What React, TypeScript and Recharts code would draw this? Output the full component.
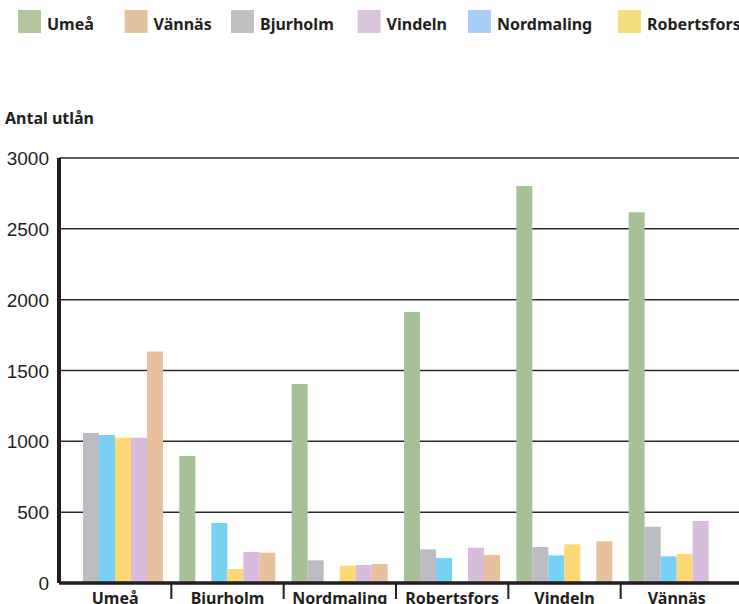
import React from 'react';
import { BarChart, Bar, XAxis, YAxis, CartesianGrid } from 'recharts';

const categories = ['Umeå', 'Bjurholm', 'Nordmaling', 'Robertsfors', 'Vindeln', 'Vännäs'];
const umea = [null, 896, 1405, 1913, 2802, 2617];
const bjurholm = [1059, null, 160, 238, 254, 397];
const nordmaling = [1045, 424, null, 176, 195, 188];
const robertsfors = [1026, 99, 122, null, 273, 205];
const vindeln = [1026, 219, 127, 249, null, 438];
const vannas = [1635, 214, 134, 198, 294, null];
const yTicks = [0, 500, 1000, 1500, 2000, 2500, 3000];

const series = [
  { key: 'Umeå', values: umea, color: '#a5c197', legend: '#b3c69b' },
  { key: 'Bjurholm', values: bjurholm, color: '#bcbdc0', legend: '#c0c0c0' },
  { key: 'Nordmaling', values: nordmaling, color: '#79d0f5', legend: '#a9cff4' },
  { key: 'Robertsfors', values: robertsfors, color: '#fdd874', legend: '#f4df7f' },
  { key: 'Vindeln', values: vindeln, color: '#d8bcdc', legend: '#d9c4dc' },
  { key: 'Vännäs', values: vannas, color: '#e8c09c', legend: '#e0c4a0' },
];

const legendOrder = ['Umeå', 'Vännäs', 'Bjurholm', 'Vindeln', 'Nordmaling', 'Robertsfors'];
const legendLeft = [18, 124.6, 231, 357.6, 468, 618];

const data = categories.map((c, i) => {
  const row: any = { name: c };
  series.forEach((s) => {
    row[s.key] = s.values[i];
  });
  return row;
});

const BOLD = '"Noto Sans", "Open Sans", sans-serif';
const TEXT = '#231f20';

const XTick = (props: any) => {
  const { x, y, payload, index } = props;
  const half = payload && payload.offset ? payload.offset : 56;
  const last = index === categories.length - 1;
  return (
    <g>
      {!last && (
        <line x1={x + half} x2={x + half} y1={y} y2={y + 16} stroke={TEXT} strokeWidth={2} />
      )}
      <text x={x} y={y + 21} textAnchor="middle" fontFamily={BOLD} fontWeight={700} fontSize={16} fill={TEXT}>
        {payload.value}
      </text>
    </g>
  );
};

const YTick = (props: any) => {
  const { x, y, payload } = props;
  return (
    <text x={x} y={y + 7} textAnchor="end" fontFamily='"Liberation Sans", Arial, sans-serif' fontSize={19} fill={TEXT}>
      {payload.value}
    </text>
  );
};

export default function App() {
  return (
    <div style={{ position: 'absolute', left: 0, top: 0, width: 739, height: 604, background: '#fff', overflow: 'hidden' }}>
      <svg width={739} height={50} style={{ position: 'absolute', left: 0, top: 0 }}>
        {legendOrder.map((name, i) => {
          const s = series.find((q) => q.key === name)!;
          return (
            <g key={name}>
              <rect x={legendLeft[i]} y={10} width={23} height={23} fill={s.legend} />
              <text x={legendLeft[i] + 29} y={30} fontFamily={BOLD} fontWeight={700} fontSize={16} fill={TEXT}>
                {name}
              </text>
            </g>
          );
        })}
      </svg>
      <svg width={200} height={40} style={{ position: 'absolute', left: 0, top: 100 }}>
        <text x={5} y={24} fontFamily={BOLD} fontWeight={700} fontSize={16} fill={TEXT}>
          Antal utlån
        </text>
      </svg>
      <div style={{ position: 'absolute', left: 0, top: 0 }}>
        <BarChart
          width={739}
          height={604}
          data={data}
          margin={{ top: 158, right: 0, bottom: 0, left: 0 }}
          barSize={16}
          barGap={0}
        >
          <CartesianGrid vertical={false} stroke="#2b2b2b" strokeWidth={1.5} />
          <XAxis
            dataKey="name"
            height={21}
            tickLine={false}
            tickSize={0}
            tickMargin={0}
            interval={0}
            padding={{ left: 0, right: 6 }}
            axisLine={{ stroke: TEXT, strokeWidth: 3.5 }}
            tick={<XTick />}
          />
          <YAxis
            width={59}
            domain={[0, 3000]}
            ticks={yTicks}
            tickLine={false}
            tickSize={0}
            tickMargin={10}
            interval={0}
            axisLine={{ stroke: TEXT, strokeWidth: 4 }}
            tick={<YTick />}
          />
          {series.map((s) => (
            <Bar key={s.key} dataKey={s.key} fill={s.color} isAnimationActive={false} />
          ))}
        </BarChart>
      </div>
    </div>
  );
}
